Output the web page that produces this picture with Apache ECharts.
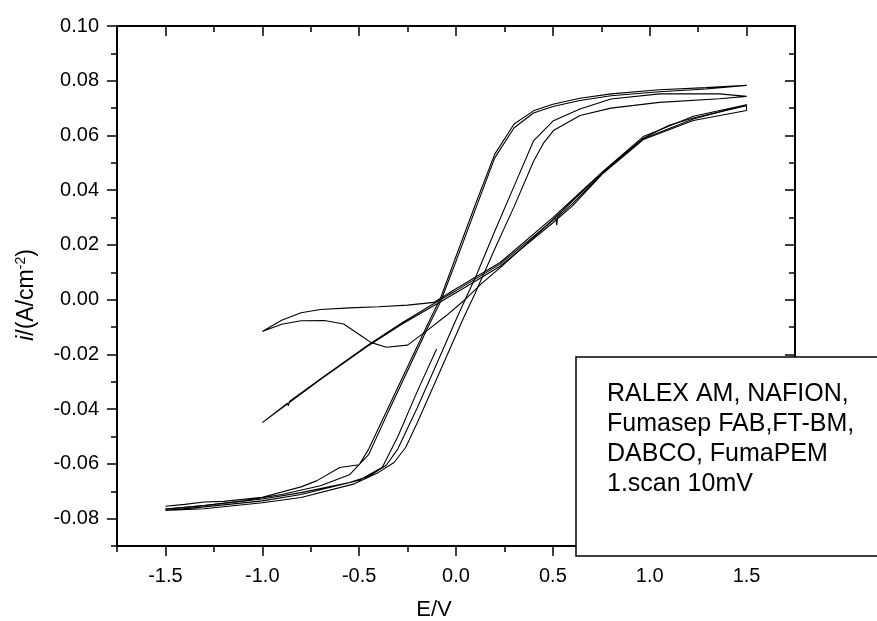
<!DOCTYPE html>
<html>
<head>
<meta charset="utf-8">
<script src="https://cdn.jsdelivr.net/npm/echarts@6/dist/echarts.min.js"></script>
<style>html,body{margin:0;padding:0;background:#fff;}#c{width:877px;height:621px;}</style>
</head>
<body>
<div id="c"></div>
<script>
// ---- axis ticks ----
var xMajor = [-1.5, -1.0, -0.5, 0, 0.5, 1.0, 1.5];
var yMajor = [-0.08, -0.06, -0.04, -0.02, 0, 0.02, 0.04, 0.06, 0.08, 0.10];
var xTitle = 'E/V';
var legendLines = ['RALEX AM, NAFION,', 'Fumasep FAB,FT-BM,', 'DABCO, FumaPEM', '1.scan 10mV'];

// ---- scan 1 (left steep loop): forward ----
var s1fE = [-1.5,-1.4,-1.3,-1.2,-1.0,-0.8,-0.72,-0.6,-0.5,-0.45,-0.35,-0.25,-0.15,-0.08,0.0,0.1,0.2,0.3,0.4,0.5,0.64,0.8,1.05,1.29,1.5];
var s1fI = [-0.0755,-0.0748,-0.0739,-0.0737,-0.0722,-0.0684,-0.0662,-0.0613,-0.0603,-0.0545,-0.0395,-0.0245,-0.0095,0.0005,0.0158,0.0348,0.0532,0.0642,0.0690,0.0714,0.0736,0.0752,0.0767,0.0775,0.0783];
// ---- scan 1 return ----
var s1rE = [1.5,1.29,1.05,0.8,0.64,0.5,0.4,0.3,0.2,0.1,0.0,-0.08,-0.15,-0.25,-0.35,-0.45,-0.55,-0.7,-0.9,-1.1,-1.3,-1.5];
var s1rI = [0.0783,0.0770,0.0760,0.0745,0.0728,0.0706,0.0682,0.0628,0.0518,0.0330,0.0140,-0.0008,-0.0108,-0.0260,-0.0410,-0.0565,-0.0640,-0.0680,-0.0712,-0.0735,-0.0752,-0.0765];

// ---- scan 2: start segment going negative ----
var s2aE = [-0.10,-0.2,-0.3,-0.38,-0.5,-0.8,-1.0,-1.3,-1.5];
var s2aI = [-0.0180,-0.0335,-0.0500,-0.0612,-0.0660,-0.0712,-0.0735,-0.0757,-0.0770];
// ---- scan 2 forward (right branch) ----
var s2fE = [-1.5,-1.3,-1.0,-0.8,-0.53,-0.4,-0.32,-0.26,-0.2,-0.1,0.0,0.04,0.1,0.2,0.3,0.4,0.45,0.503,0.64,0.8,1.05,1.36,1.5];
var s2fI = [-0.0774,-0.0764,-0.0742,-0.0723,-0.0674,-0.0631,-0.0595,-0.0540,-0.0450,-0.0290,-0.0129,-0.0065,0.0025,0.0185,0.0340,0.0505,0.0570,0.0618,0.0673,0.0700,0.0721,0.0734,0.0743];
// ---- scan 2 return (middle branch) ----
var s2rE = [1.5,1.36,1.05,0.8,0.64,0.503,0.4,0.3,0.2,0.108,0.0,-0.1,-0.2,-0.3,-0.36,-0.45,-0.55,-0.8,-1.0,-1.3,-1.5];
var s2rI = [0.0743,0.0752,0.0752,0.0733,0.0697,0.0654,0.0580,0.0415,0.0250,0.0094,-0.0073,-0.0235,-0.0395,-0.0545,-0.0605,-0.0645,-0.0668,-0.0705,-0.0728,-0.0752,-0.0765];

// ---- scan 3 (linear-like): forward ----
var s3fE = [-1.0,-0.9,-0.87,-0.865,-0.86,-0.7,-0.459,-0.28,-0.09,0.0,0.228,0.5,0.515,0.52,0.525,0.6,0.76,0.967,1.1,1.225,1.5];
var s3fI = [-0.0449,-0.0395,-0.0378,-0.0388,-0.0372,-0.0290,-0.0168,-0.0085,-0.0004,0.0033,0.0130,0.0290,0.0300,0.0272,0.0303,0.0350,0.0465,0.0590,0.0637,0.0664,0.0709];
// ---- scan 3 return ----
var s3rE = [1.5,1.225,0.967,0.76,0.6,0.5,0.228,0.0,-0.28,-0.459,-0.7,-1.0];
var s3rI = [0.0691,0.0655,0.0585,0.0462,0.0342,0.0281,0.0122,0.0025,-0.0090,-0.0171,-0.0292,-0.0449];

// ---- scan 4 (loop with dip): upper branch ----
var s4fE = [-1.0,-0.9,-0.8,-0.7,-0.55,-0.4,-0.25,-0.115,0.0,0.228,0.5,0.76,0.967,1.225,1.5];
var s4fI = [-0.0116,-0.0075,-0.0048,-0.0036,-0.0030,-0.0026,-0.0020,-0.0010,0.0040,0.0136,0.0300,0.0470,0.0596,0.0670,0.0712];
// ---- scan 4 lower branch ----
var s4rE = [1.5,1.225,0.967,0.76,0.5,0.35,0.23,0.13,0.04,-0.05,-0.15,-0.25,-0.36,-0.44,-0.49,-0.58,-0.68,-0.8,-0.9,-1.0];
var s4rI = [0.0712,0.0660,0.0588,0.0468,0.0292,0.0195,0.0118,0.0058,-0.0004,-0.0058,-0.0113,-0.0166,-0.0174,-0.0156,-0.0132,-0.0089,-0.0076,-0.0077,-0.0090,-0.0116];

function zip(a, b) { return a.map(function (v, i) { return [v, b[i]]; }); }

var paths = [
  zip(s1fE, s1fI).concat(zip(s1rE, s1rI)),
  zip(s2aE, s2aI).concat(zip(s2fE, s2fI)).concat(zip(s2rE, s2rI)),
  zip(s3fE, s3fI).concat(zip(s3rE, s3rI)),
  zip(s4fE, s4fI).concat(zip(s4rE, s4rI))
];

var FONT = 'Liberation Sans, Arial, sans-serif';
var lineCol = '#000';

function majorAxis(dim, pos, inside, withLabel) {
  var isX = dim === 'x';
  return {
    type: 'value', position: pos,
    min: isX ? -1.75 : -0.09, max: isX ? 1.75 : 0.10,
    axisLine: { show: true, onZero: false, lineStyle: { color: lineCol, width: 2 } },
    axisTick: { show: true, inside: inside, length: 10, customValues: isX ? xMajor : yMajor, lineStyle: { color: lineCol, width: 1.5 } },
    axisLabel: { show: withLabel, customValues: isX ? xMajor : yMajor, color: '#000', fontSize: 20, fontFamily: FONT,
      margin: isX ? 20 : 18,
      formatter: function (v) { return isX ? (+v).toFixed(1) : (+v).toFixed(2); } },
    splitLine: { show: false }
  };
}
function minorAxis(dim, pos, inside) {
  var isX = dim === 'x';
  return {
    type: 'value', position: pos,
    min: isX ? -1.75 : -0.09, max: isX ? 1.75 : 0.10, interval: isX ? 0.25 : 0.01,
    axisLine: { show: false, onZero: false },
    axisTick: { show: true, inside: inside, length: 6, lineStyle: { color: lineCol, width: 1.5 } },
    axisLabel: { show: false },
    splitLine: { show: false }
  };
}

var chart = echarts.init(document.getElementById('c'), null, { renderer: 'canvas' });
chart.setOption({
  animation: false,
  backgroundColor: '#fff',
  grid: { left: 117, right: 82, top: 26, bottom: 75, containLabel: false },
  xAxis: [majorAxis('x', 'bottom', false, true), minorAxis('x', 'bottom', false), majorAxis('x', 'top', true, false), minorAxis('x', 'top', true)],
  yAxis: [majorAxis('y', 'left', false, true), minorAxis('y', 'left', false), majorAxis('y', 'right', true, false), minorAxis('y', 'right', true)],
  series: paths.map(function (p) {
    return {
      type: 'line', data: p, xAxisIndex: 0, yAxisIndex: 0,
      showSymbol: false, symbol: 'none', smooth: false,
      lineStyle: { color: '#000', width: 1.1 }, z: 5
    };
  }),
  graphic: [
    { type: 'text', z: 50, x: 434, y: 610,
      style: { text: xTitle, font: '22px ' + FONT, fill: '#000', align: 'center', verticalAlign: 'middle' } },
    { type: 'text', z: 50, x: 27, y: 295, rotation: Math.PI / 2,
      style: {
        text: '{it|i}{n|/(A/cm}{sup|-2}{n|)}', align: 'center', verticalAlign: 'middle', fill: '#000',
        font: '23px ' + FONT,
        rich: {
          it: { fontSize: 23, fontStyle: 'italic', fontFamily: FONT, fill: '#000' },
          n: { fontSize: 23, fontFamily: FONT, fill: '#000' },
          sup: { fontSize: 14, fontFamily: FONT, fill: '#000', verticalAlign: 'top', padding: [0, 0, 11, 0] }
        }
      } },
    { type: 'rect', z: 100, shape: { x: 576, y: 357, width: 320, height: 199 },
      style: { fill: '#fff', stroke: '#000', lineWidth: 1.5 } },
    { type: 'text', z: 101, left: 607, top: 379,
      style: { text: legendLines.join('\n'), font: '25px ' + FONT, fill: '#000', lineHeight: 30 } }
  ]
});
</script>
</body>
</html>
